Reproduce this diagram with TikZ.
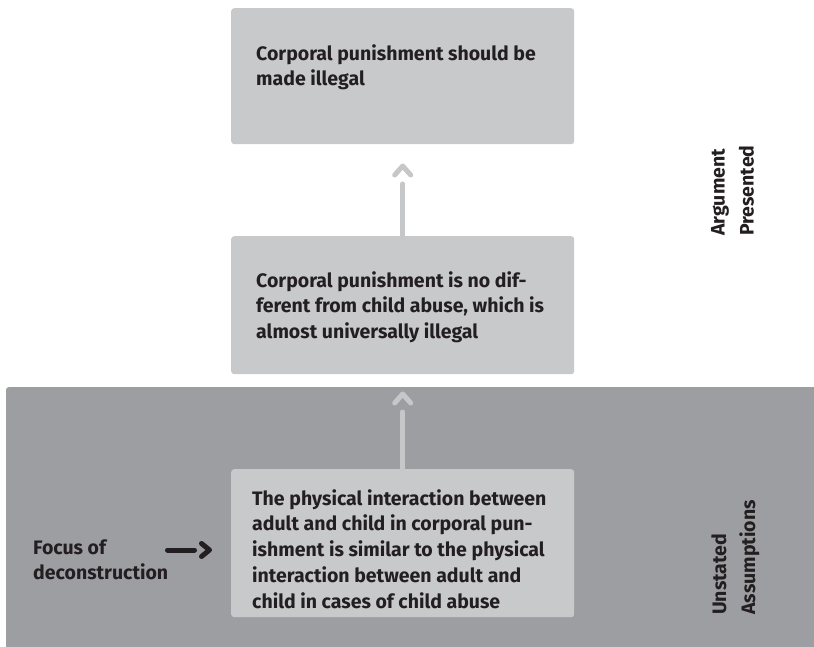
\documentclass[tikz,border=0pt]{standalone}
\usepackage{fontspec}
\setmainfont{Fira Sans}
\definecolor{cardgray}{HTML}{C8C9CB}
\definecolor{bandgray}{HTML}{9D9EA2}
\definecolor{linkgray}{HTML}{C6C7C9}
\definecolor{ink}{HTML}{231F20}
\begin{document}
\begin{tikzpicture}[x=1pt,y=-1pt,
  card/.style={fill=cardgray, draw=none, rounded corners=3pt, inner sep=0pt,
    minimum width=343pt, anchor=north west},
  cardtext/.style={anchor=north west, inner sep=0pt, align=left, text=ink,
    font=\bfseries\fontsize{19.5}{25.8}\selectfont},
  sidelabel/.style={cardtext, rotate=90,
    font=\bfseries\fontsize{19.5}{29}\selectfont},
  link/.style={draw=linkgray, line width=5pt, line cap=round, line join=round},
  pointer/.style={draw=ink, line width=5pt, line cap=round, line join=round}]
\useasboundingbox (0,0) rectangle (814,647);

% lower band holding the unstated assumptions
\fill[bandgray, rounded corners=3pt] (6,387) rectangle (830,670);

% argument cards
\node[card, minimum height=136pt] (claim) at (231,8) {};
\node[card, minimum height=138pt] (reason) at (231,236) {};
\node[card, minimum height=148pt] (assume) at (231,469) {};

\node[cardtext] (claimtxt) at (256,44)
  {Corporal punishment should be\\made illegal};
\node[cardtext] (reasontxt) at (256,271)
  {Corporal punishment is no dif-\\ferent from child abuse, which is\\almost universally illegal};
\node[cardtext] (assumetxt) at (252,489)
  {The physical interaction between\\adult and child in corporal pun-\\ishment is similar to the physical\\interaction between adult and\\child in cases of child abuse};

% upward links with detached chevrons
\path (reason.north) ++(0,-52) coordinate (up1);
\draw[link] (reason.north) -- (up1);
\draw[link] (up1) ++(-8,-9) -- ++(8,-9) -- ++(8,9);

\path (assume.north) ++(0,-57) coordinate (up2);
\draw[link] (assume.north) -- (up2);
\draw[link] (up2) ++(-8,-9) -- ++(8,-9) -- ++(8,9);

% focus pointer
\node[cardtext] (focus) at (33,539) {Focus of\\deconstruction};
\coordinate (fa) at (167.5,550);
\coordinate (fb) at (194.5,550);
\draw[pointer] (fa) -- (fb);
\draw[pointer] (fb) ++(7,-6.5) -- ++(8,6.5) -- ++(-8,6.5);

% side labels
\node[sidelabel] (argl) at (711,236) {Argument\\Presented};
\node[sidelabel] (unst) at (711,615) {Unstated\\Assumptions};
\end{tikzpicture}
\end{document}
